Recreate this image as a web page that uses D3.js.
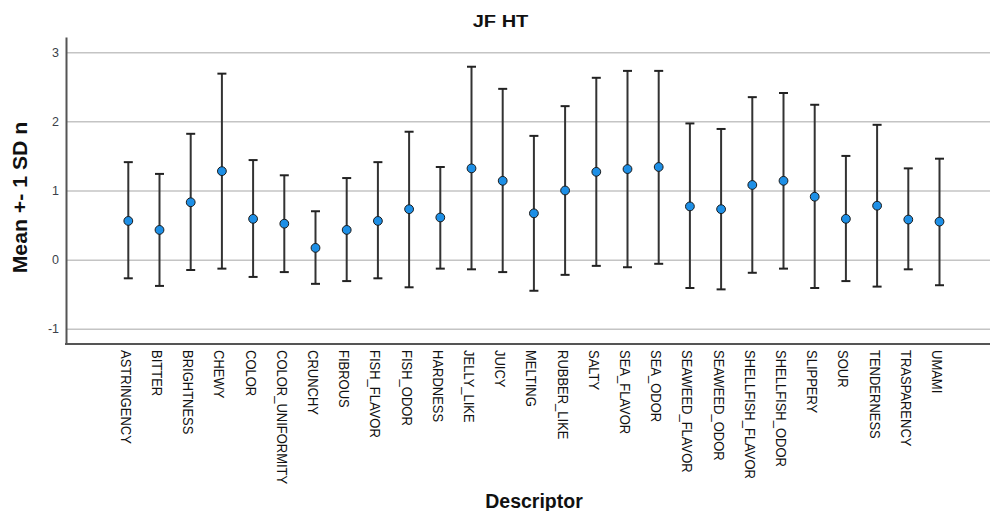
<!DOCTYPE html>
<html><head><meta charset="utf-8">
<script src="https://cdn.jsdelivr.net/npm/d3@7"></script>
<style>
html,body{margin:0;padding:0;background:#fff;}
svg{display:block;font-family:"Liberation Sans",Arial,sans-serif;}
</style></head>
<body><svg id="c" width="992" height="511"></svg>
<script>
const categories = ["ASTRINGENCY","BITTER","BRIGHTNESS","CHEWY","COLOR","COLOR_UNIFORMITY","CRUNCHY","FIBROUS","FISH_FLAVOR","FISH_ODOR","HARDNESS","JELLY_LIKE","JUICY","MELTING","RUBBER_LIKE","SALTY","SEA_FLAVOR","SEA_ODOR","SEAWEED_FLAVOR","SEAWEED_ODOR","SHELLFISH_FLAVOR","SHELLFISH_ODOR","SLIPPERY","SOUR","TENDERNESS","TRASPARENCY","UMAMI"];
const means = [0.56,0.43,0.83,1.28,0.59,0.52,0.17,0.43,0.56,0.73,0.61,1.32,1.14,0.67,1.00,1.27,1.31,1.34,0.77,0.73,1.08,1.14,0.91,0.59,0.78,0.58,0.55];
const upper = [1.41,1.24,1.82,2.69,1.44,1.22,0.70,1.18,1.41,1.85,1.34,2.79,2.47,1.79,2.22,2.63,2.73,2.73,1.97,1.89,2.35,2.41,2.24,1.50,1.95,1.32,1.46];
const lower = [-0.27,-0.38,-0.15,-0.13,-0.25,-0.18,-0.35,-0.31,-0.27,-0.40,-0.13,-0.14,-0.18,-0.45,-0.22,-0.09,-0.11,-0.06,-0.41,-0.43,-0.19,-0.13,-0.41,-0.31,-0.39,-0.14,-0.37];
const yTicks = [-1,0,1,2,3];
const yTickLabels = ["-1","0","1","2","3"];
const title = "JF HT";
const yTitle = "Mean +- 1 SD n";
const xTitle = "Descriptor";

const svg = d3.select("#c");
const L = 66, R = 990, T = 37, B = 344;
const x = d3.scalePoint().domain(categories).range([128.3, 939.5]);
const y = d3.scaleLinear().domain([-1.22, 3.22]).range([B, T]);

// gridlines
const grid = svg.append("g").attr("transform", `translate(${L},0)`)
  .call(d3.axisLeft(y).tickValues(yTicks).tickSize(-(R - L)).tickFormat(""));
grid.select(".domain").remove();
grid.selectAll("line").attr("stroke", "#c4c4c4").attr("stroke-width", 1.5);

// y axis
const ya = svg.append("g").attr("transform", `translate(${L},0)`)
  .call(d3.axisLeft(y).tickValues(yTicks).tickSize(0).tickSizeOuter(0).tickPadding(7)
    .tickFormat((d, i) => yTickLabels[i]));
ya.select(".domain").attr("stroke", "#555").attr("stroke-width", 2);
ya.selectAll("text").attr("font-size", 12.5).attr("fill", "#3b3f4a").attr("font-family", "Liberation Sans, Arial, sans-serif");

// x axis line
svg.append("line").attr("x1", L - 1).attr("x2", R).attr("y1", B).attr("y2", B)
  .attr("stroke", "#555").attr("stroke-width", 2);

// x tick labels
svg.append("g").selectAll("text").data(categories).join("text")
  .attr("transform", d => `translate(${x(d) - 7.6},350) rotate(90) scale(1,1.18)`)
  .attr("font-size", 13).attr("fill", "#111").attr("text-anchor", "start")
  .text(d => d);

// error bars
const eb = svg.append("g");
categories.forEach((c, i) => {
  const cx = x(c);
  eb.append("line").attr("x1", cx).attr("x2", cx).attr("y1", y(upper[i])).attr("y2", y(lower[i]))
    .attr("stroke", "#333").attr("stroke-width", 2);
  [upper[i], lower[i]].forEach(v => {
    eb.append("line").attr("x1", cx - 4.5).attr("x2", cx + 4.5).attr("y1", y(v)).attr("y2", y(v))
      .attr("stroke", "#222").attr("stroke-width", 2);
  });
});
svg.append("g").selectAll("circle").data(categories).join("circle")
  .attr("cx", d => x(d)).attr("cy", (d, i) => y(means[i])).attr("r", 4.4)
  .attr("fill", "#1d8fe6").attr("stroke", "#1a1a1a").attr("stroke-width", 1);

// titles
svg.append("text").attr("transform", "translate(500.5,27) scale(1.18,1)")
  .attr("text-anchor", "middle").attr("font-size", 17).attr("font-weight", "bold").attr("fill", "#111").text(title);
svg.append("text").attr("transform", "translate(27,197.5) rotate(-90) scale(1.09,1)")
  .attr("text-anchor", "middle").attr("font-size", 19.5).attr("font-weight", "bold").attr("fill", "#111").text(yTitle);
svg.append("text").attr("x", 534).attr("y", 508)
  .attr("text-anchor", "middle").attr("font-size", 19.5).attr("font-weight", "bold").attr("fill", "#111").text(xTitle);
</script></body></html>
